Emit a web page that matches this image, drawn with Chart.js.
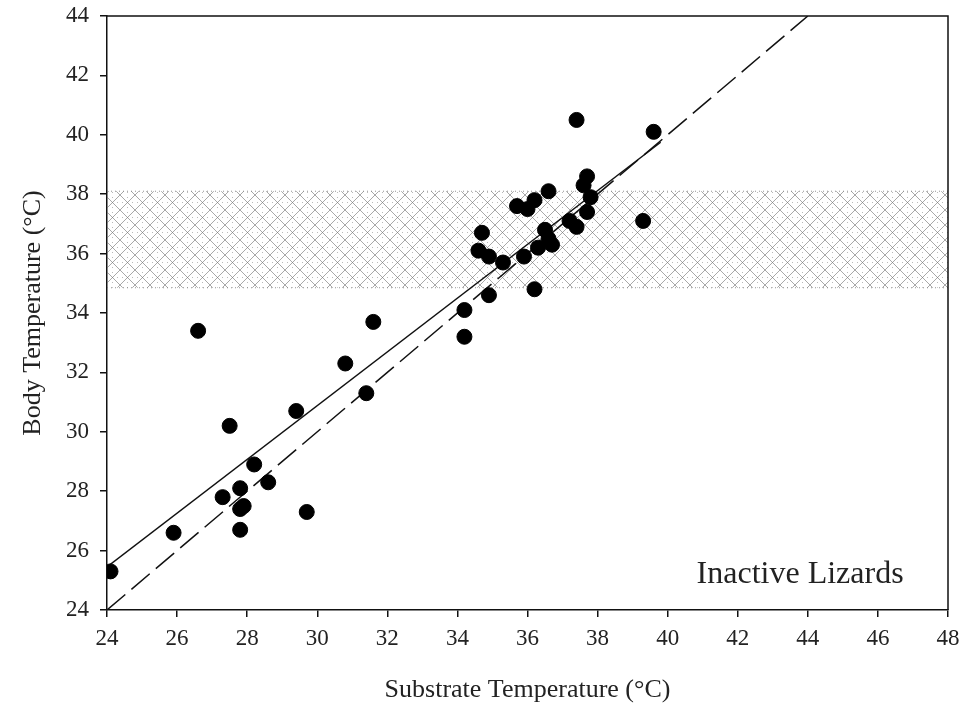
<!DOCTYPE html>
<html lang="en">
<head>
    <meta charset="UTF-8">
    <title>Inactive Lizards</title>
    <script src="https://cdn.jsdelivr.net/npm/chart.js"></script>
    <style>
        body { margin: 0; background: #fff; }
        #wrap { width: 968px; height: 716px; }
    </style>
</head>
<body>
    <div id="wrap"><canvas id="lizardChart" width="968" height="716"></canvas></div>

    <script>
        // substrate vs body temperature
        const substrateTemp = [24.1, 25.9, 26.6, 27.3, 27.5, 27.8, 27.8, 27.9, 27.8, 28.2, 28.6, 29.4, 29.7, 30.8,
            31.4, 31.6, 34.2, 34.2, 34.6, 34.7, 34.9, 34.9, 35.3, 35.7, 35.9, 36.0, 36.2, 36.2, 36.3, 36.5,
            36.6, 36.6, 36.7, 37.2, 37.4, 37.4, 37.6, 37.7, 37.7, 37.8, 39.3, 39.6];
        const bodyTemp = [25.3, 26.6, 33.4, 27.8, 30.2, 28.1, 27.4, 27.5, 26.7, 28.9, 28.3, 30.7, 27.3, 32.3,
            31.3, 33.7, 34.1, 33.2, 36.1, 36.7, 35.9, 34.6, 35.7, 37.6, 35.9, 37.5, 37.8, 34.8, 36.2, 36.8,
            36.5, 38.1, 36.3, 37.1, 36.9, 40.5, 38.3, 38.6, 37.4, 37.9, 37.1, 40.1];

        // regression line (solid) and 1:1 line (dashed)
        const fitX = [24, 39.8];
        const fitY = [25.45, 39.75];
        const equalX = [24, 44];
        const equalY = [24, 44];

        // preferred body temperature range (hatched band)
        const bandLow = 34.85;
        const bandHigh = 38.1;

        const xTicks = [24, 26, 28, 30, 32, 34, 36, 38, 40, 42, 44, 46, 48];
        const yTicks = [24, 26, 28, 30, 32, 34, 36, 38, 40, 42, 44];

        const serif = "'Liberation Serif', 'DejaVu Serif', serif";

        const toPoints = (xs, ys) => xs.map((x, i) => ({ x: x, y: ys[i] }));

        // crosshatch fill for the band
        function makeHatch() {
            const c = document.createElement('canvas');
            c.width = 15; c.height = 15;
            const g = c.getContext('2d');
            g.strokeStyle = 'rgba(110,110,110,0.6)';
            g.lineWidth = 1;
            g.beginPath();
            g.moveTo(-1, -1); g.lineTo(16, 16);
            g.moveTo(16, -1); g.lineTo(-1, 16);
            g.stroke();
            g.fillStyle = 'rgba(130,130,130,0.55)';
            g.fillRect(7, 2, 1, 1);
            g.fillRect(2, 7, 1, 1);
            g.fillRect(12, 7, 1, 1);
            g.fillRect(7, 12, 1, 1);
            return g.createPattern(c, 'repeat');
        }

        const bandPlugin = {
            id: 'band',
            beforeDatasetsDraw(chart) {
                const { ctx, chartArea, scales } = chart;
                const top = scales.y.getPixelForValue(bandHigh);
                const bottom = scales.y.getPixelForValue(bandLow);
                ctx.save();
                ctx.fillStyle = makeHatch();
                ctx.fillRect(chartArea.left, top, chartArea.right - chartArea.left, bottom - top);
                ctx.strokeStyle = 'rgba(120,120,120,0.8)';
                ctx.setLineDash([1, 3]);
                ctx.lineWidth = 1;
                ctx.beginPath();
                ctx.moveTo(chartArea.left, top); ctx.lineTo(chartArea.right, top);
                ctx.moveTo(chartArea.left, bottom); ctx.lineTo(chartArea.right, bottom);
                ctx.stroke();
                ctx.restore();
            }
        };

        const framePlugin = {
            id: 'frame',
            afterDraw(chart) {
                const { ctx, chartArea, scales } = chart;
                ctx.save();
                ctx.strokeStyle = '#111';
                ctx.lineWidth = 1.5;
                ctx.beginPath();
                ctx.moveTo(chartArea.left, chartArea.top);
                ctx.lineTo(chartArea.right, chartArea.top);
                ctx.lineTo(chartArea.right, chartArea.bottom);
                ctx.stroke();
                ctx.fillStyle = '#222';
                ctx.font = '32px ' + serif;
                ctx.textAlign = 'center';
                ctx.textBaseline = 'middle';
                ctx.fillText('Inactive Lizards', scales.x.getPixelForValue(43.78), scales.y.getPixelForValue(25.2));
                ctx.restore();
            }
        };

        const ctx = document.getElementById('lizardChart').getContext('2d');
        new Chart(ctx, {
            type: 'scatter',
            data: {
                datasets: [
                    {
                        label: 'Inactive lizards',
                        data: toPoints(substrateTemp, bodyTemp),
                        backgroundColor: '#000',
                        borderColor: '#000',
                        pointRadius: 7.5,
                        order: 0
                    },
                    {
                        label: 'Regression',
                        data: toPoints(fitX, fitY),
                        showLine: true,
                        borderColor: '#111',
                        borderWidth: 1.5,
                        pointRadius: 0,
                        order: 1
                    },
                    {
                        label: 'Tb = Ts',
                        data: toPoints(equalX, equalY),
                        showLine: true,
                        borderColor: '#111',
                        borderWidth: 1.5,
                        borderDash: [24, 8],
                        pointRadius: 0,
                        order: 2
                    }
                ]
            },
            options: {
                responsive: false,
                animation: false,
                layout: { padding: { left: 8, right: 20, top: 16, bottom: 0 } },
                plugins: {
                    legend: { display: false },
                    tooltip: { enabled: false }
                },
                scales: {
                    x: {
                        type: 'linear',
                        min: 24,
                        max: 48,
                        afterBuildTicks: (s) => { s.ticks = xTicks.map(v => ({ value: v })); },
                        afterFit: (s) => { s.height = 106; s.paddingLeft = 0; s.paddingRight = 0; },
                        border: { display: true, color: '#111', width: 1.5 },
                        grid: { drawOnChartArea: false, drawTicks: true, tickLength: 7, color: '#111', lineWidth: 1.5 },
                        ticks: { color: '#222', padding: 8, maxRotation: 0, font: { family: serif, size: 23 } },
                        title: {
                            display: true,
                            text: 'Substrate Temperature (°C)',
                            color: '#222',
                            padding: { top: 0, bottom: 10 },
                            font: { family: serif, size: 26 }
                        }
                    },
                    y: {
                        type: 'linear',
                        min: 24,
                        max: 44,
                        afterBuildTicks: (s) => { s.ticks = yTicks.map(v => ({ value: v })); },
                        afterFit: (s) => { s.width = 99; s.paddingTop = 0; s.paddingBottom = 0; },
                        border: { display: true, color: '#111', width: 1.5 },
                        grid: { drawOnChartArea: false, drawTicks: true, tickLength: 7, color: '#111', lineWidth: 1.5 },
                        ticks: { color: '#222', padding: 11, font: { family: serif, size: 23 } },
                        title: {
                            display: true,
                            text: 'Body Temperature (°C)',
                            color: '#222',
                            padding: { top: 10, bottom: 0 },
                            font: { family: serif, size: 26 }
                        }
                    }
                }
            },
            plugins: [bandPlugin, framePlugin]
        });
    </script>
</body>
</html>
